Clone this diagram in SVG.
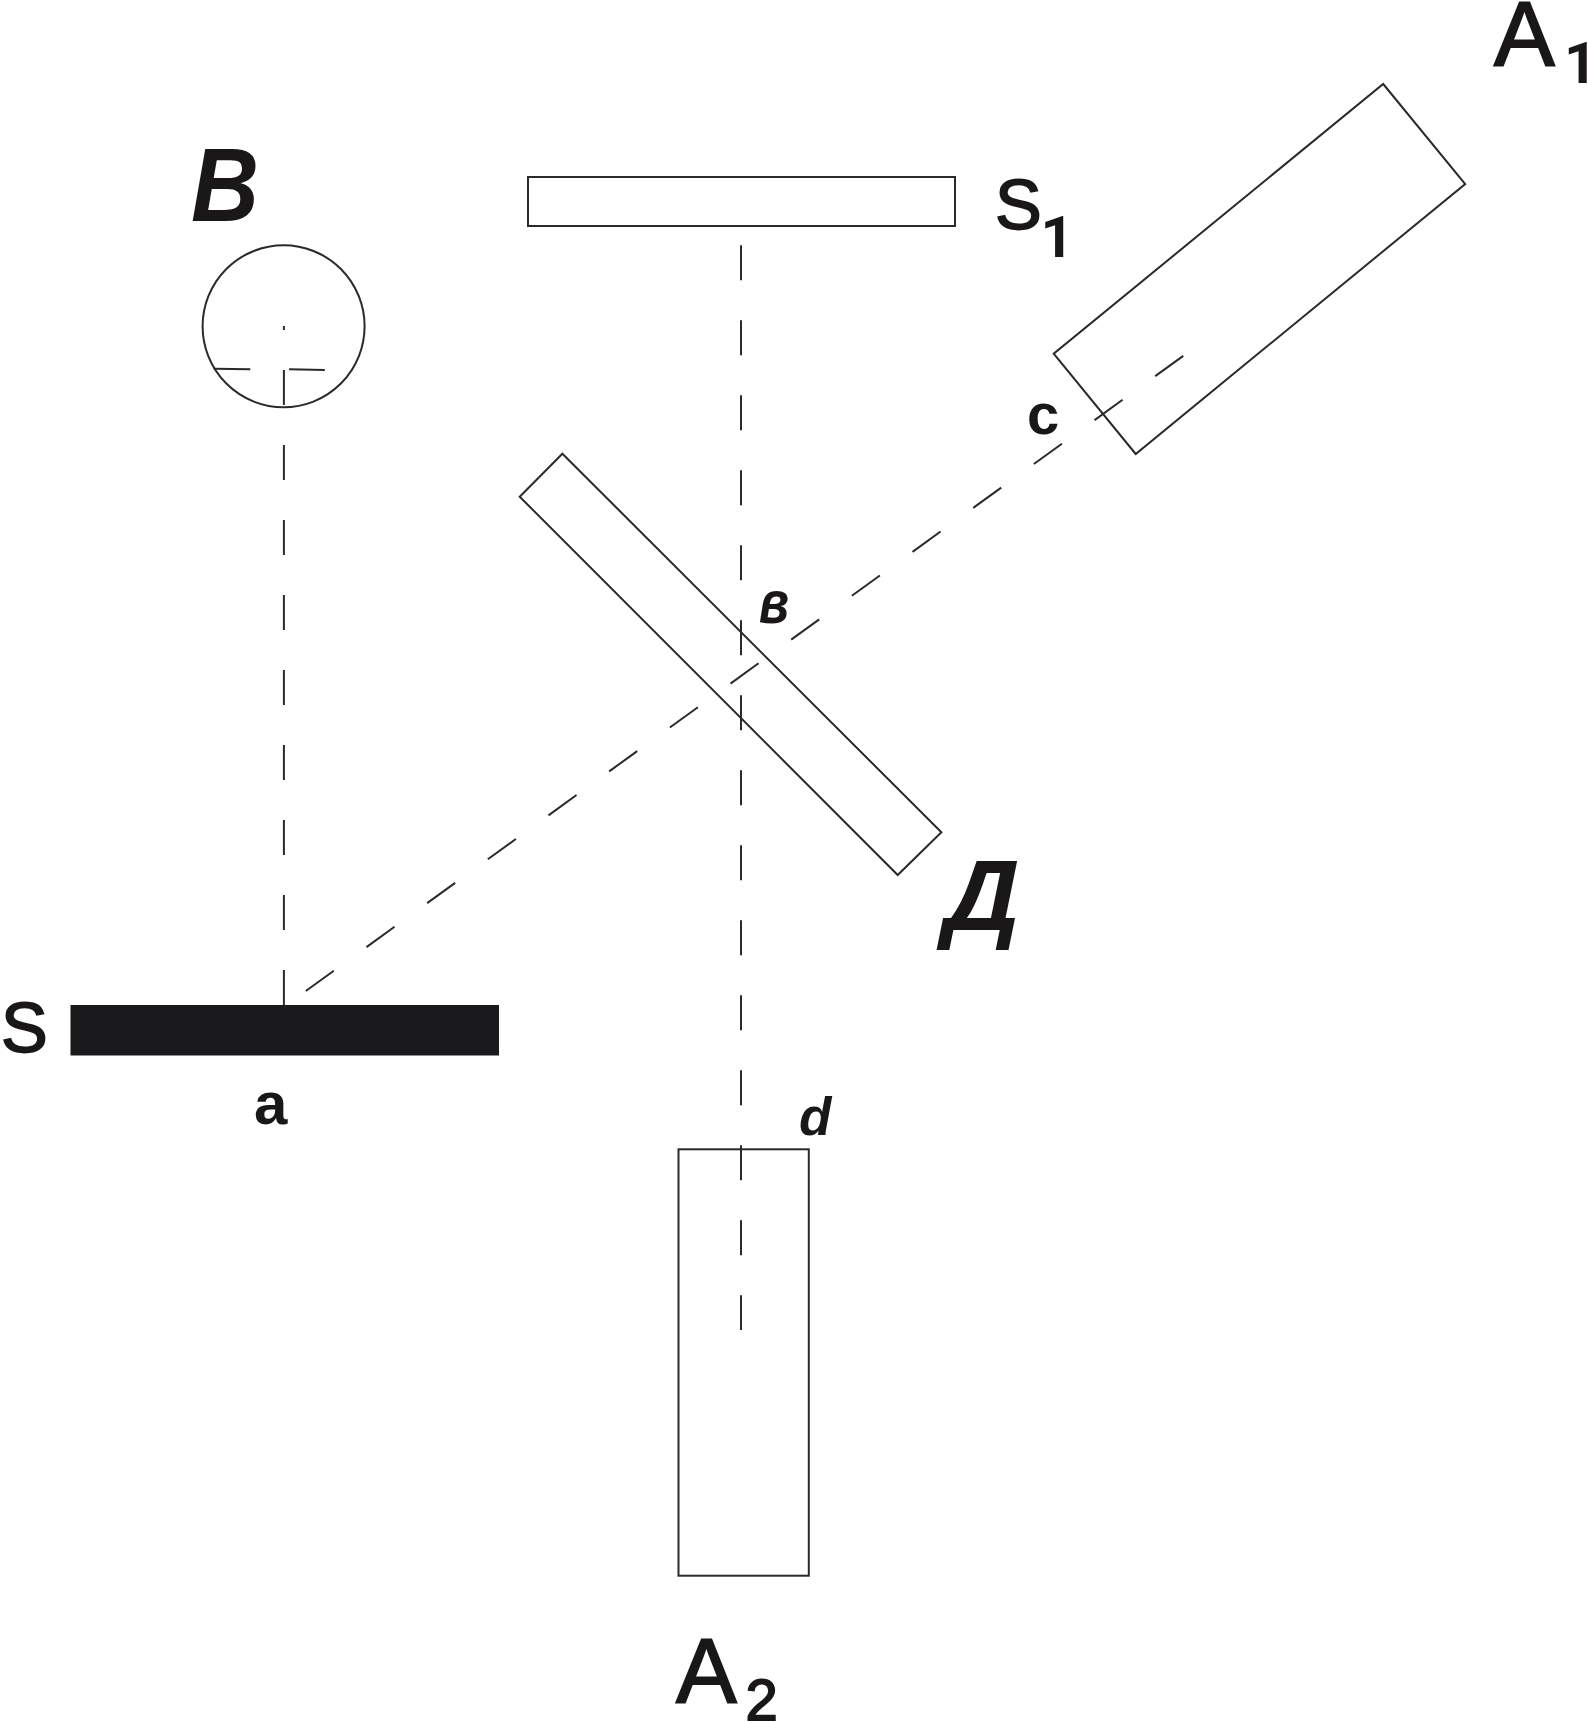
<svg xmlns="http://www.w3.org/2000/svg" width="1588" height="1722" viewBox="0 0 1588 1722">
<style>
.o{fill:#fff;stroke:#2a2a2a;stroke-width:2}
.l{fill:none;stroke:#2a2a2a;stroke-width:2}
.d{fill:none;stroke:#2a2a2a;stroke-width:2;stroke-dasharray:35 40}
.t{font-family:"Liberation Sans",Arial,sans-serif;fill:#1a1718}
.r{stroke:#1a1718;stroke-width:1.8}
.n{font-family:Roboto,"Liberation Sans",sans-serif;font-weight:700;fill:#1a1718}
.b{font-weight:700}
.i{font-style:italic;font-weight:700}
</style>
<rect width="1588" height="1722" fill="#fff"/>
<g id="node-S">
<rect x="70.5" y="1005" width="428.5" height="50.5" fill="#1a1a1c"/>
<text class="t r" x="1" y="1052" font-size="70">S</text>
<text class="t b" x="254" y="1124" font-size="60">a</text>
</g>
<g id="node-S1">
<rect class="o" x="528" y="177" width="427" height="49"/>
<text class="t r" x="995" y="229" font-size="70">S</text>
<text class="n" x="1040.5" y="257" font-size="58">1</text>
</g>
<g id="node-B">
<circle class="o" cx="283.6" cy="326.3" r="81"/>
<text class="t i" x="191" y="220.5" font-size="103" textLength="68" lengthAdjust="spacingAndGlyphs">В</text>
</g>
<g id="node-A1">
<polygon class="o" points="1383.2,84 1465.2,184 1135.7,454 1053.7,353.7"/>
<text class="t r" x="1494" y="65" font-size="91">A</text>
<text class="n" x="1564" y="83" font-size="58">1</text>
<text class="t b" x="1027" y="434" font-size="58">c</text>
</g>
<g id="node-D">
<polygon class="o" points="562.4,453.7 941.4,832.3 897.7,875 519.7,496.7"/>
<text class="t i" x="759" y="622.5" font-size="62" textLength="30" lengthAdjust="spacingAndGlyphs">в</text>
<text class="t i" transform="translate(944 930) scale(1.05 1)" font-size="100">Д</text>
</g>
<g id="node-A2">
<rect class="o" x="678.5" y="1149.3" width="130.3" height="426.4"/>
<text class="t r" x="676" y="1702" font-size="91">A</text>
<text class="t r" x="745.5" y="1720" font-size="58">2</text>
<text class="t i" x="799" y="1135" font-size="53">d</text>
</g>
<g id="connectors">
<line class="d" x1="283.9" y1="1005" x2="283.9" y2="326"/>
<line class="d" x1="741" y1="245.3" x2="741" y2="1330"/>
<line class="d" style="stroke-dasharray:34.6 40.3" x1="305.8" y1="991" x2="1183.5" y2="355.7"/>
<line class="l" x1="213.6" y1="368.7" x2="250.3" y2="369.3"/>
<line class="l" x1="289.1" y1="369.3" x2="324.8" y2="370"/>
</g>
</svg>
